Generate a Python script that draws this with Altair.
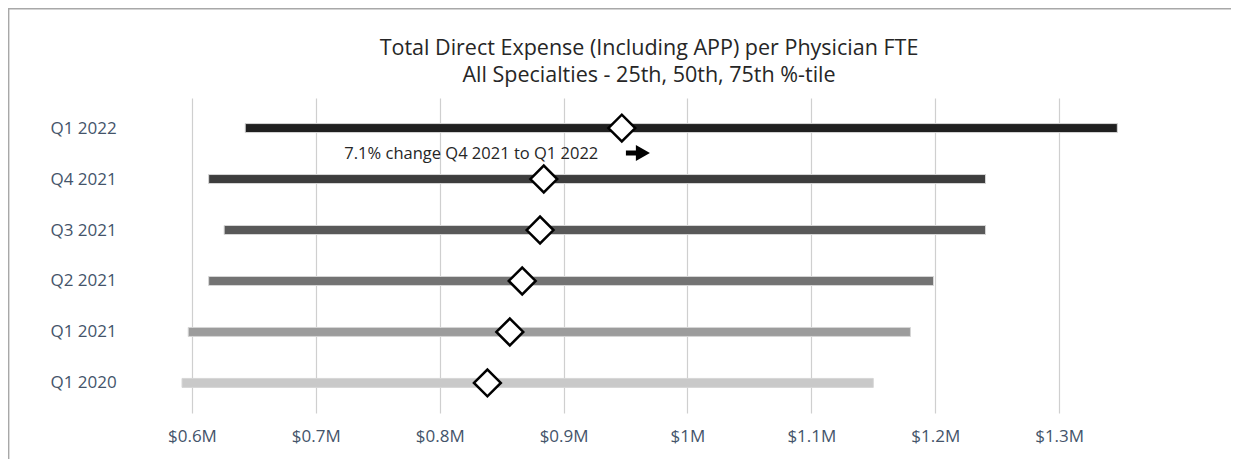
import altair as alt
import pandas as pd

periods = ["Q1 2022", "Q4 2021", "Q3 2021", "Q2 2021", "Q1 2021", "Q1 2020"]
p25 = [0.643, 0.6135, 0.626, 0.6135, 0.597, 0.592]
p50 = [0.947, 0.884, 0.881, 0.8666, 0.8566, 0.8385]
p75 = [1.347, 1.2406, 1.2406, 1.1986, 1.180, 1.150]
bar_colors = ["#202020", "#3d3d3d", "#595959", "#737373", "#9c9c9c", "#c9c9c9"]
tick_values = [0.6, 0.7, 0.8, 0.9, 1.0, 1.1, 1.2, 1.3]

title_lines = ["Total Direct Expense (Including APP) per Physician FTE",
               "All Specialties - 25th, 50th, 75th %-tile"]
note_text = "7.1% change Q4 2021 to Q1 2022"
note_period = "Q1 2022"
note_text_x = 0.928
note_arrow_x = 0.960

df = pd.DataFrame({"period": periods, "p25": p25, "p50": p50, "p75": p75})
note_df = pd.DataFrame({"period": [note_period], "tx": [note_text_x],
                        "ax": [note_arrow_x], "label": [note_text]})
one = pd.DataFrame({"k": [0]})

FONT = "Open Sans"
W, H = 1053, 315
PL, PT, PR, PB = 122, 90, 48, 46

x_scale = alt.Scale(domain=[0.55, 1.40], nice=False, zero=False)
y_scale = alt.Scale(type="point", domain=periods, padding=0.59)

x_axis = alt.Axis(values=tick_values,
                  labelExpr="datum.value >= 1 ? '$' + format(datum.value, '~g') + 'M' : '$' + format(datum.value, '.1f') + 'M'",
                  title=None, domain=False, ticks=False, grid=True,
                  gridColor="#cfcfcf", gridWidth=1.2, labelFont=FONT,
                  labelFontSize=17, labelColor="#44546A", labelPadding=15)
y_axis = alt.Axis(title=None, domain=False, ticks=False, grid=False,
                  labelFont=FONT, labelFontSize=17, labelColor="#44546A",
                  labelAlign="left", labelPadding=80)

border_top = alt.Chart(one).mark_rule(stroke="#a8a8a8", strokeWidth=1.4).encode(
    x=alt.value(-122), x2=alt.value(W + PR + 20), y=alt.value(-89.3),
)
border_left = alt.Chart(one).mark_rule(stroke="#a8a8a8", strokeWidth=1.4).encode(
    x=alt.value(-121.3), y=alt.value(-90), y2=alt.value(H + PB + 20),
)

title1 = alt.Chart(one).mark_text(
    font=FONT, fontSize=21.5, color="#262626", align="center", baseline="middle",
    text=title_lines[0]
).encode(x=alt.value(W / 2 - 7.5), y=alt.value(-49))

title2 = alt.Chart(one).mark_text(
    font=FONT, fontSize=21.5, color="#262626", align="center", baseline="middle",
    text=title_lines[1]
).encode(x=alt.value(W / 2 - 7.5), y=alt.value(-22))

bars = alt.Chart(df).mark_bar(size=9, stroke="#d6d6d6", strokeWidth=1).encode(
    x=alt.X("p25:Q", scale=x_scale, axis=x_axis),
    x2="p75:Q",
    y=alt.Y("period:N", scale=y_scale, axis=y_axis, sort=periods),
    color=alt.Color("period:N", scale=alt.Scale(domain=periods, range=bar_colors), legend=None),
)

medians = alt.Chart(df).mark_point(
    shape="diamond", size=720, filled=True, fill="white", stroke="black",
    strokeWidth=2.5, opacity=1
).encode(
    x=alt.X("p50:Q", scale=x_scale),
    y=alt.Y("period:N", scale=y_scale, sort=periods),
)

note = alt.Chart(note_df).mark_text(
    font=FONT, fontSize=16.5, color="#262626", align="right", baseline="middle", yOffset=26
).encode(
    x=alt.X("tx:Q", scale=x_scale),
    y=alt.Y("period:N", scale=y_scale, sort=periods),
    text="label:N",
)

arrow = alt.Chart(note_df).mark_point(
    shape="M-1,-0.21L-0.17,-0.21L-0.17,-0.67L1,0L-0.17,0.67L-0.17,0.21L-1,0.21Z",
    size=576, filled=True, fill="black", opacity=1, yOffset=25
).encode(
    x=alt.X("ax:Q", scale=x_scale),
    y=alt.Y("period:N", scale=y_scale, sort=periods),
)

chart = alt.layer(border_top, border_left, title1, title2, bars, medians, note, arrow).properties(
    width=W, height=H,
    padding={"left": PL, "top": PT, "right": PR, "bottom": PB},
    autosize=alt.AutoSizeParams(type="none"),
).configure_view(stroke="transparent", strokeWidth=0)

chart.save("out.html", embed_options={"renderer": "svg", "actions": False})
